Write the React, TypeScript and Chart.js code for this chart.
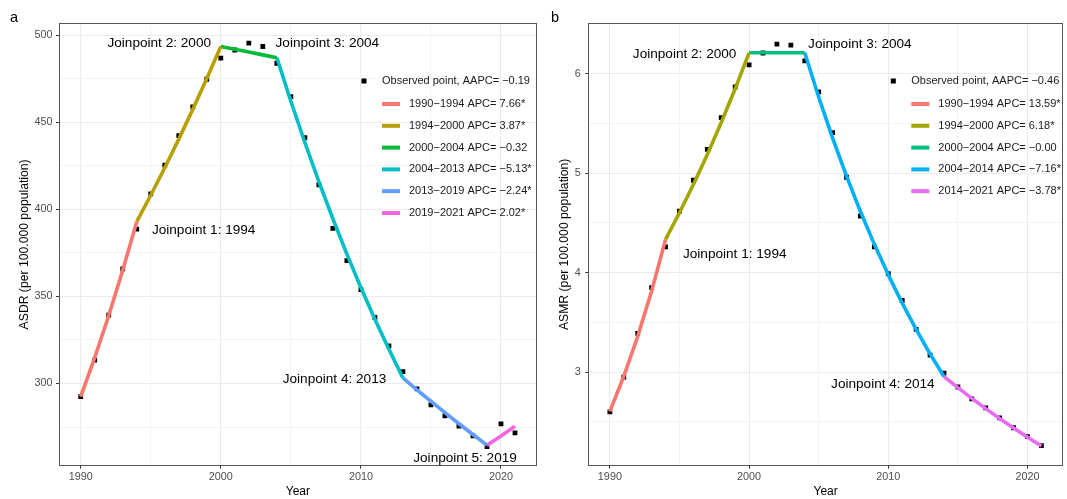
import React, { useEffect, useRef } from 'react';
import { Chart, registerables } from 'chart.js';

Chart.register(...registerables);

const FONT = '"Liberation Sans", Arial, Helvetica, sans-serif';
Chart.defaults.font.family = FONT;

// ---------- shared data ----------
const years = [
  1990, 1991, 1992, 1993, 1994, 1995, 1996, 1997, 1998, 1999, 2000, 2001, 2002, 2003, 2004, 2005,
  2006, 2007, 2008, 2009, 2010, 2011, 2012, 2013, 2014, 2015, 2016, 2017, 2018, 2019, 2020, 2021,
];
const xMajorTicks = [1990, 2000, 2010, 2020];
const xMinorTicks = [1995, 2005, 2015];
const xTitle = 'Year';

// ---------- panel a: ASDR ----------
const asdrObserved = [
  292.5, 313.4, 339.3, 365.8, 388.6, 408.9, 425.4, 442.3, 458.8, 474.7, 486.8, 491.5, 495.4, 493.5, 483.9, 464.7,
  441.1, 414.1, 389.1, 370.5, 353.9, 337.9, 321.6, 306.8, 296.9, 287.7, 281.4, 275.6, 269.9, 263.7, 276.8, 271.7,
];
const asdrFitted = [
  292.5, 314.9, 339.0, 365.0, 392.9, 408.1, 423.9, 440.3, 457.4, 475.1, 493.5, 491.9, 490.3, 488.7, 487.1, 462.1,
  438.4, 415.9, 394.6, 374.3, 355.1, 336.9, 319.6, 303.2, 296.4, 289.8, 283.3, 276.9, 270.7, 264.6, 269.9, 275.4,
];
const asdrJoinpoints = [1990, 1994, 2000, 2004, 2013, 2019, 2021];
const asdrColors = ['#F8766D', '#B79F00', '#00BA38', '#00BFC4', '#619CFF', '#F564E3'];
const asdrSegmentLabels = [
  '1990\u22121994 APC= 7.66*',
  '1994\u22122000 APC= 3.87*',
  '2000\u22122004 APC= \u22120.32',
  '2004\u22122013 APC= \u22125.13*',
  '2013\u22122019 APC= \u22122.24*',
  '2019\u22122021 APC= 2.02*',
];
const asdrObservedLabel = 'Observed point, AAPC= \u22120.19';
const asdrMajorTicks = [300, 350, 400, 450, 500];
const asdrMinorTicks = [275, 325, 375, 425, 475];
const asdrTitle = 'ASDR (per 100.000 population)';
const asdrAnnotations = [
  { text: 'Joinpoint 1: 1994', x: 1995.08, y: 387.8, align: 'left' },
  { text: 'Joinpoint 2: 2000', x: 1999.3, y: 495.4, align: 'right' },
  { text: 'Joinpoint 3: 2004', x: 2003.91, y: 495.4, align: 'left' },
  { text: 'Joinpoint 4: 2013', x: 2011.81, y: 302.5, align: 'right' },
  { text: 'Joinpoint 5: 2019', x: 2021.13, y: 257.1, align: 'right' },
];

// ---------- panel b: ASMR ----------
const asmrObserved = [
  2.60, 2.95, 3.39, 3.85, 4.26, 4.62, 4.93, 5.24, 5.56, 5.87, 6.09, 6.21, 6.30, 6.29, 6.13, 5.82,
  5.41, 4.96, 4.57, 4.26, 3.99, 3.72, 3.43, 3.17, 2.99, 2.85, 2.73, 2.64, 2.54, 2.44, 2.35, 2.26,
];
const asmrFitted = [
  2.604, 2.958, 3.360, 3.816, 4.335, 4.603, 4.887, 5.189, 5.510, 5.850, 6.212, 6.212, 6.212, 6.212, 6.212, 5.767,
  5.354, 4.971, 4.615, 4.285, 3.978, 3.693, 3.429, 3.183, 2.955, 2.843, 2.736, 2.632, 2.533, 2.437, 2.345, 2.256,
];
const asmrJoinpoints = [1990, 1994, 2000, 2004, 2014, 2021];
const asmrColors = ['#F8766D', '#A3A500', '#00BF7D', '#00B0F6', '#E76BF3'];
const asmrSegmentLabels = [
  '1990\u22121994 APC= 13.59*',
  '1994\u22122000 APC= 6.18*',
  '2000\u22122004 APC= \u22120.00',
  '2004\u22122014 APC= \u22127.16*',
  '2014\u22122021 APC= \u22123.78*',
];
const asmrObservedLabel = 'Observed point, AAPC= \u22120.46';
const asmrMajorTicks = [3, 4, 5, 6];
const asmrMinorTicks = [2.5, 3.5, 4.5, 5.5];
const asmrTitle = 'ASMR (per 100.000 population)';
const asmrAnnotations = [
  { text: 'Joinpoint 1: 1994', x: 1995.25, y: 4.187, align: 'left' },
  { text: 'Joinpoint 2: 2000', x: 1999.09, y: 6.194, align: 'right' },
  { text: 'Joinpoint 3: 2004', x: 2004.24, y: 6.294, align: 'left' },
  { text: 'Joinpoint 4: 2014', x: 2013.33, y: 2.877, align: 'right' },
];

type Ann = { text: string; x: number; y: number; align: string };

interface PanelCfg {
  letter: string;
  letterX: number;
  left: number;
  width: number;
  yAxisWidth: number;
  padRight: number;
  yTitle: string;
  yTitlePad: number;
  yTickPad: number;
  xMin: number;
  xMax: number;
  yMin: number;
  yMax: number;
  yMajor: number[];
  yMinor: number[];
  observed: number[];
  fitted: number[];
  joinpoints: number[];
  colors: string[];
  segLabels: string[];
  obsLabel: string;
  annotations: Ann[];
}

const panelA: PanelCfg = {
  letter: 'a',
  letterX: 10,
  left: 0,
  width: 545,
  yAxisWidth: 59,
  padRight: 8.3,
  yTitle: asdrTitle,
  yTitlePad: 17.8,
  yTickPad: 3.5,
  xMin: 1988.45,
  xMax: 2022.55,
  yMin: 252.8,
  yMax: 507.0,
  yMajor: asdrMajorTicks,
  yMinor: asdrMinorTicks,
  observed: asdrObserved,
  fitted: asdrFitted,
  joinpoints: asdrJoinpoints,
  colors: asdrColors,
  segLabels: asdrSegmentLabels,
  obsLabel: asdrObservedLabel,
  annotations: asdrAnnotations,
};

const panelB: PanelCfg = {
  letter: 'b',
  letterX: 6,
  left: 545,
  width: 522,
  yAxisWidth: 43.3,
  padRight: 1.3,
  yTitle: asmrTitle,
  yTitlePad: 12.8,
  yTickPad: 4.5,
  xMin: 1988.45,
  xMax: 2022.55,
  yMin: 2.058,
  yMax: 6.512,
  yMajor: asmrMajorTicks,
  yMinor: asmrMinorTicks,
  observed: asmrObserved,
  fitted: asmrFitted,
  joinpoints: asmrJoinpoints,
  colors: asmrColors,
  segLabels: asmrSegmentLabels,
  obsLabel: asmrObservedLabel,
  annotations: asmrAnnotations,
};

const decorPlugin = {
  id: 'panelDecor',
  afterDatasetsDraw(chart: any, _args: any, opts: any) {
    const { ctx, chartArea: ca, scales } = chart;
    const cfg: PanelCfg = opts.cfg;
    ctx.save();

    // panel border
    ctx.strokeStyle = '#555555';
    ctx.lineWidth = 1;
    ctx.strokeRect(Math.round(ca.left) + 0.5, Math.round(ca.top) + 0.5, Math.round(ca.right - ca.left) - 1, Math.round(ca.bottom - ca.top) - 1);

    // joinpoint annotations
    ctx.font = `13.6px ${FONT}`;
    ctx.fillStyle = '#000000';
    ctx.textBaseline = 'middle';
    for (const a of cfg.annotations) {
      ctx.textAlign = a.align as CanvasTextAlign;
      ctx.fillText(a.text, scales.x.getPixelForValue(a.x), scales.y.getPixelForValue(a.y));
    }

    // legend
    const lx = ca.left;
    const ly = ca.top;
    ctx.font = `11px ${FONT}`;
    ctx.textAlign = 'left';
    ctx.fillStyle = '#000000';
    ctx.fillRect(lx + 305 - 2.5, ly + 58 - 2.5, 5, 5);
    ctx.fillStyle = '#1a1a1a';
    ctx.fillText(cfg.obsLabel, lx + 323, ly + 58);
    cfg.segLabels.forEach((lab, i) => {
      const yy = ly + 81 + i * 21.8;
      ctx.strokeStyle = cfg.colors[i];
      ctx.lineWidth = 4;
      ctx.lineCap = 'butt';
      ctx.beginPath();
      ctx.moveTo(lx + 323, yy);
      ctx.lineTo(lx + 341, yy);
      ctx.stroke();
      ctx.fillStyle = '#1a1a1a';
      ctx.fillText(lab, lx + 350, yy);
    });

    // panel letter
    ctx.font = `14.5px ${FONT}`;
    ctx.fillStyle = '#000000';
    ctx.textBaseline = 'alphabetic';
    ctx.fillText(cfg.letter, cfg.letterX, 21.5);

    ctx.restore();
  },
};

function buildConfig(cfg: PanelCfg): any {
  const segDatasets = cfg.joinpoints.slice(0, -1).map((start, i) => {
    const end = cfg.joinpoints[i + 1];
    const data = years
      .map((yr, k) => ({ x: yr, y: cfg.fitted[k] }))
      .filter((p) => p.x >= start && p.x <= end);
    return {
      label: cfg.segLabels[i],
      data,
      borderColor: cfg.colors[i],
      backgroundColor: cfg.colors[i],
      borderWidth: 3.6,
      pointRadius: 0,
      tension: 0,
      fill: false,
      borderCapStyle: 'butt',
      borderJoinStyle: 'round',
      order: 1,
    };
  });
  const obsDataset = {
    label: cfg.obsLabel,
    data: years.map((yr, k) => ({ x: yr, y: cfg.observed[k] })),
    showLine: false,
    pointStyle: 'rect',
    pointRadius: 3.4,
    pointBackgroundColor: '#000000',
    pointBorderWidth: 0,
    pointBorderColor: '#000000',
    order: 5,
  };

  const xAll = [...xMajorTicks, ...xMinorTicks].sort((a, b) => a - b);
  const yAll = [...cfg.yMajor, ...cfg.yMinor].sort((a, b) => a - b);
  const isXMajor = (v: number) => xMajorTicks.includes(v);
  const isYMajor = (v: number) => cfg.yMajor.some((m) => Math.abs(m - v) < 1e-9);

  return {
    type: 'line',
    data: { datasets: [...segDatasets, obsDataset] },
    plugins: [decorPlugin],
    options: {
      responsive: false,
      maintainAspectRatio: false,
      animation: false,
      devicePixelRatio: 1,
      layout: { padding: { left: 0, top: 23, right: cfg.padRight, bottom: 0 } },
      plugins: {
        legend: { display: false },
        tooltip: { enabled: false },
        title: { display: false },
        panelDecor: { cfg },
      },
      scales: {
        x: {
          type: 'linear',
          min: cfg.xMin,
          max: cfg.xMax,
          afterBuildTicks: (s: any) => {
            s.ticks = xAll.map((v) => ({ value: v }));
          },
          afterFit: (s: any) => {
            s.height = 33.3;
          },
          ticks: {
            autoSkip: false,
            maxRotation: 0,
            padding: 2,
            color: '#4D4D4D',
            font: { size: 10.8 },
            callback: (v: number) => (isXMajor(v) ? String(v) : ''),
          },
          grid: {
            color: (c: any) => (c.tick && isXMajor(c.tick.value) ? '#EBEBEB' : '#F4F4F4'),
            lineWidth: 1,
            tickColor: (c: any) => (c.tick && isXMajor(c.tick.value) ? '#333333' : 'rgba(0,0,0,0)'),
            tickLength: 3,
            tickWidth: 1,
          },
          border: { display: false },
          title: {
            display: true,
            text: xTitle,
            color: '#000000',
            font: { size: 12 },
            padding: { top: 0, bottom: 0 },
          },
        },
        y: {
          type: 'linear',
          min: cfg.yMin,
          max: cfg.yMax,
          afterBuildTicks: (s: any) => {
            s.ticks = yAll.map((v) => ({ value: v }));
          },
          afterFit: (s: any) => {
            s.width = cfg.yAxisWidth;
          },
          ticks: {
            autoSkip: false,
            padding: cfg.yTickPad,
            color: '#4D4D4D',
            font: { size: 10.8 },
            callback: (v: number) => (isYMajor(v) ? String(v) : ''),
          },
          grid: {
            color: (c: any) => (c.tick && isYMajor(c.tick.value) ? '#EBEBEB' : '#F4F4F4'),
            lineWidth: 1,
            tickColor: (c: any) => (c.tick && isYMajor(c.tick.value) ? '#333333' : 'rgba(0,0,0,0)'),
            tickLength: 3,
            tickWidth: 1,
          },
          border: { display: false },
          title: {
            display: true,
            text: cfg.yTitle,
            color: '#000000',
            font: { size: 12.2 },
            padding: { top: cfg.yTitlePad, bottom: 0 },
          },
        },
      },
    },
  };
}

function Panel({ cfg }: { cfg: PanelCfg }) {
  const ref = useRef<HTMLCanvasElement>(null);
  useEffect(() => {
    if (!ref.current) return;
    const chart = new Chart(ref.current, buildConfig(cfg));
    return () => chart.destroy();
  }, [cfg]);
  return (
    <canvas
      ref={ref}
      width={cfg.width}
      height={499}
      style={{ position: 'absolute', left: cfg.left, top: 0, width: cfg.width, height: 499 }}
    />
  );
}

export default function App() {
  return (
    <div style={{ position: 'fixed', left: 0, top: 0, width: 1067, height: 499, background: '#ffffff', overflow: 'hidden' }}>
      <Panel cfg={panelA} />
      <Panel cfg={panelB} />
    </div>
  );
}
